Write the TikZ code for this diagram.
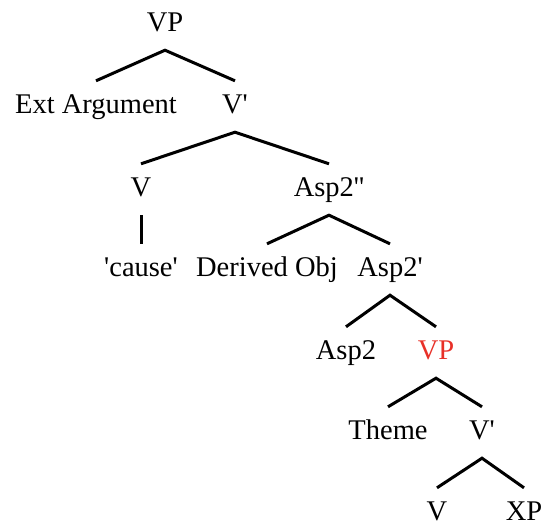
\documentclass[tikz,border=0pt]{standalone}
\usepackage{fontspec}
\setmainfont{Liberation Serif}
\definecolor{vpred}{RGB}{232,48,40}
\begin{document}
\begin{tikzpicture}[x=1pt,y=1pt,
  lbl/.style={anchor=base,font=\fontsize{28.5}{30}\selectfont,text height=19pt,text depth=6pt,inner xsep=0pt,inner ysep=13pt},
  br/.style={line width=3pt}]
\useasboundingbox (0,0) rectangle (544,-525);
\node[lbl] (vp) at (165,-31) {VP};
\node[lbl] (ext) at (96,-113) {Ext Argument};
\node[lbl] (vbar) at (235,-113) {V\textquotesingle};
\node[lbl] (v) at (141,-196) {V};
\node[lbl] (asptwo) at (329,-196) {Asp2\textquotesingle\textquotesingle};
\node[lbl] (cause) at (141,-276) {\textquotesingle cause\textquotesingle};
\node[lbl] (dobj) at (267,-276) {Derived Obj};
\node[lbl] (aspbar) at (390,-276) {Asp2\textquotesingle};
\node[lbl] (asp) at (346,-359) {Asp2};
\node[lbl,text=vpred] (vpr) at (436,-359) {VP};
\node[lbl] (theme) at (388,-439) {Theme};
\node[lbl] (vbartwo) at (482,-439) {V\textquotesingle};
\node[lbl] (vtwo) at (437,-520) {V};
\node[lbl] (xp) at (524,-520) {XP};
\draw[br] (ext.north) -- (vp.south) -- (vbar.north);
\draw[br] (v.north) -- (vbar.south) -- (asptwo.north);
\draw[br] (v.south) -- (cause.north);
\draw[br] (dobj.north) -- (asptwo.south) -- (aspbar.north);
\draw[br] (asp.north) -- (aspbar.south) -- (vpr.north);
\draw[br] (theme.north) -- (vpr.south) -- (vbartwo.north);
\draw[br] (vtwo.north) -- (vbartwo.south) -- (xp.north);
\end{tikzpicture}
\end{document}
